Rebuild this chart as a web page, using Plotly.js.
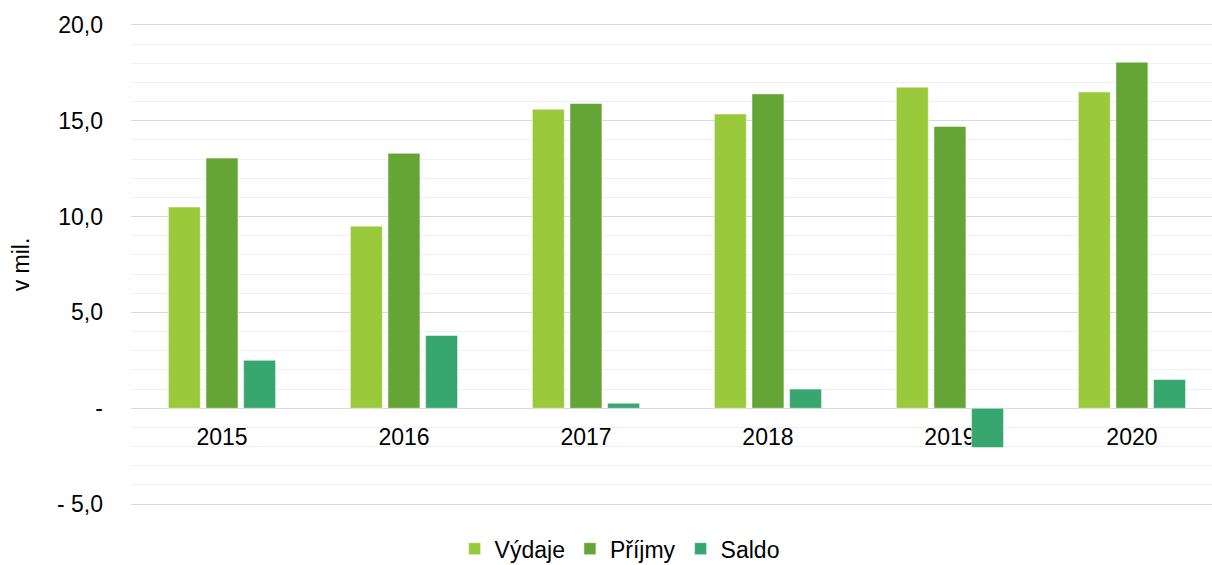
<!DOCTYPE html>
<html>
<head>
<meta charset="utf-8">
<script src="https://cdn.plot.ly/plotly-3.0.1.min.js"></script>
<style>html,body{margin:0;padding:0;background:#fff;}#chart{width:1212px;height:565px;}</style>
</head>
<body>
<div id="chart"></div>
<script>
const years = ["2015", "2016", "2017", "2018", "2019", "2020"];
const vydaje = [10.5, 9.5, 15.6, 15.35, 16.75, 16.5];
const prijmy = [13.05, 13.3, 15.9, 16.4, 14.7, 18.05];
const saldo = [2.5, 3.8, 0.26, 1.0, -2.05, 1.5];
const yTickVals = [-5, 0, 5, 10, 15, 20];
const yTickText = ["- 5,0", "-", "5,0", "10,0", "15,0", "20,0"];

const font = {family: "Liberation Sans, Arial, sans-serif", size: 23, color: "#000"};
const mk = (name, y, color) => ({
  type: "bar", name: name, x: years, y: y,
  marker: {color: color, line: {color: "rgba(255,255,255,0.5)", width: 1}},
  hoverinfo: "skip"
});

const data = [
  mk("Výdaje", vydaje, "#9aca3c"),
  mk("Příjmy", prijmy, "#65a536"),
  mk("Saldo", saldo, "#37a76f")
];

const yMin = -5.15, yMax = 20.15;

const layout = {
  width: 1212, height: 565,
  margin: {l: 131, r: 0, t: 22, b: 58, autoexpand: false},
  paper_bgcolor: "#fff", plot_bgcolor: "#fff",
  font: font,
  barmode: "group",
  bargap: 0.38,
  bargroupgap: 0.15,
  showlegend: true,
  legend: {orientation: "h", x: 0.452, xanchor: "center", y: -0.086, yanchor: "middle",
           font: font, itemwidth: 30, tracegroupgap: 0},
  xaxis: {
    type: "category",
    range: [-0.5, 5.44],
    anchor: "free", position: (0 - yMin) / (yMax - yMin),
    showline: false, showgrid: false, zeroline: false,
    ticks: "", tickfont: font,
    ticklabelstandoff: 13,
    layer: "below traces",
    fixedrange: true
  },
  yaxis: {
    range: [yMin, yMax],
    tickmode: "array", tickvals: yTickVals, ticktext: yTickText,
    showgrid: true, gridcolor: "#d9d9d9", gridwidth: 1,
    zeroline: true, zerolinecolor: "#d9d9d9", zerolinewidth: 1,
    showline: false, ticks: "",
    ticklabelstandoff: 27,
    tickfont: font,
    minor: {tickmode: "linear", tick0: 0, dtick: 1, showgrid: true, gridcolor: "#f0f0f0", gridwidth: 1, ticks: ""},
    title: {text: "v mil.", font: font, standoff: 20},
    fixedrange: true
  }
};

Plotly.newPlot("chart", data, layout, {displayModeBar: false, staticPlot: true});
</script>
</body>
</html>
